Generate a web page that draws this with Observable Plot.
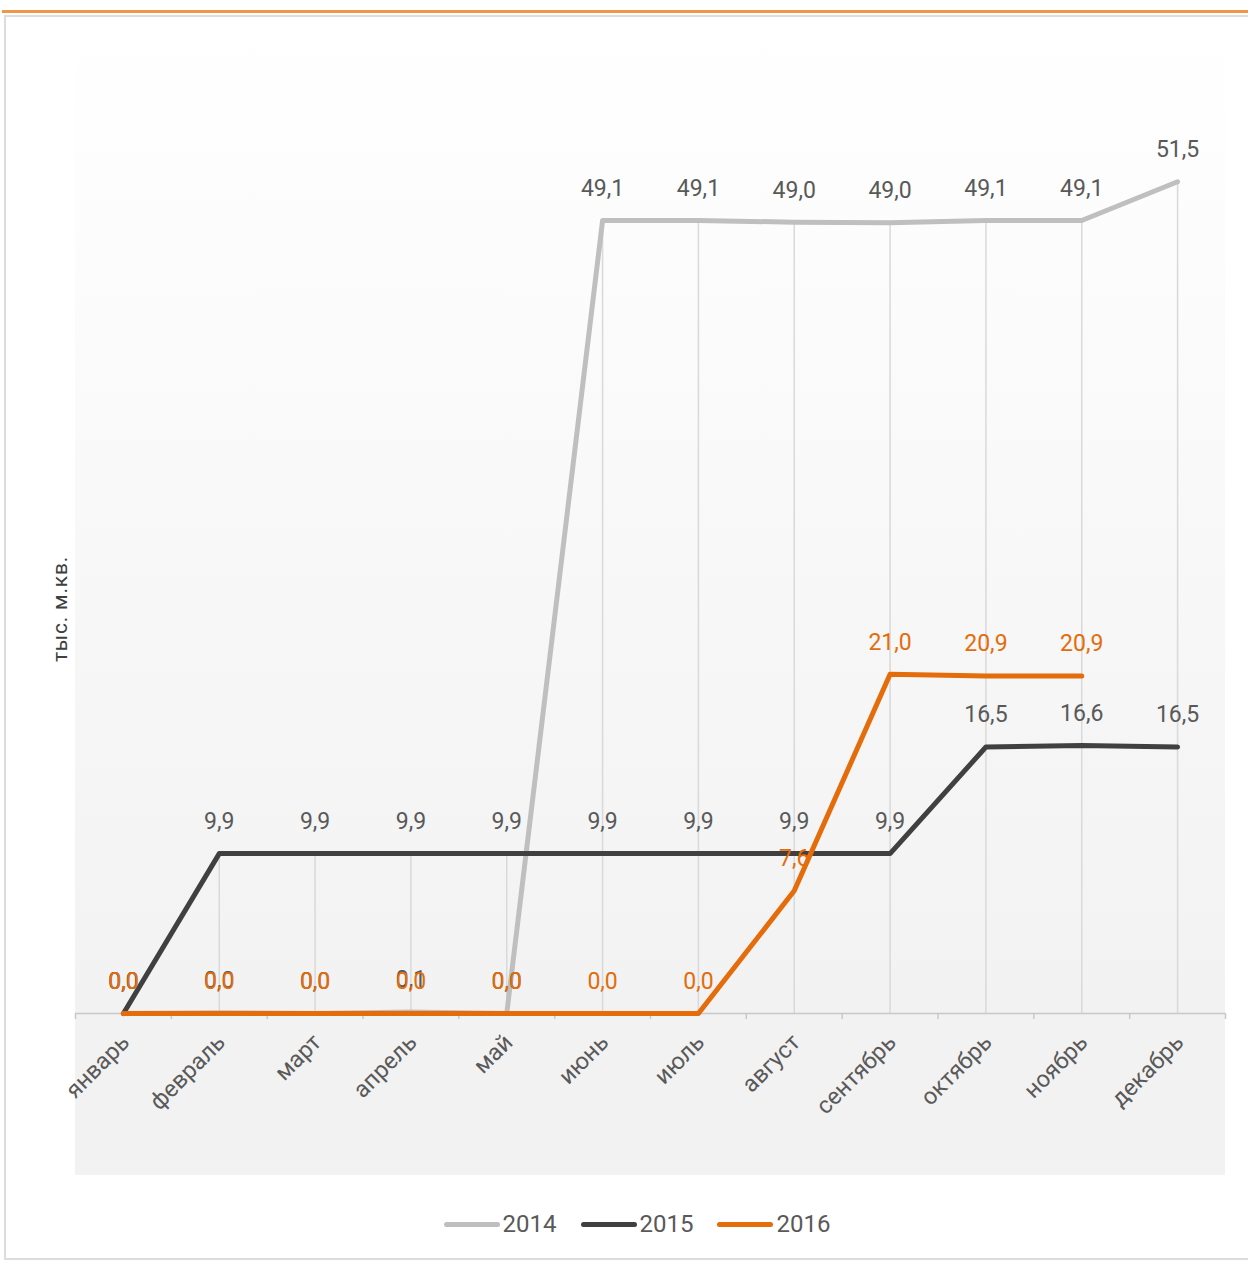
<!DOCTYPE html>
<html>
<head>
<meta charset="utf-8">
<script src="https://cdn.jsdelivr.net/npm/d3@7"></script>
<script src="https://cdn.jsdelivr.net/npm/@observablehq/plot@0.6"></script>
<style>
  html, body { margin: 0; padding: 0; background: #fff; }
  body { width: 1248px; height: 1264px; position: relative; overflow: hidden; font-family: Roboto, "Noto Sans", sans-serif; }
  #topline { position: absolute; left: 2px; top: 10px; width: 1246px; height: 3px; background: #f29545; }
  #frame { position: absolute; left: 4px; top: 15px; width: 1260px; height: 1245px; border: 2px solid #dcdcdc; box-sizing: border-box; }
  #bg { position: absolute; left: 75px; top: 20px; width: 1150px; height: 1155px;
        background: linear-gradient(to bottom, #ffffff 0px, #f2f2f2 993px, #f2f2f2 1155px); }
  #chart { position: absolute; left: 0; top: 0; }
  #ylabel { position: absolute; left: 60px; top: 609px; transform: translate(-50%, -50%) rotate(-90deg);
            font-size: 21px; color: #404040; white-space: nowrap; letter-spacing: 0.8px; }
  #legend { position: absolute; left: 0; width: 1248px; top: 1210px; display: flex; justify-content: center;
            gap: 24px; font-size: 24px; color: #595959; padding-left: 26px; box-sizing: border-box; }
  .item { display: flex; align-items: center; }
  .sw { width: 56px; height: 5px; border-radius: 3px; margin-right: 3px; }
</style>
</head>
<body>
<div id="topline"></div>
<div id="frame"></div>
<div id="bg"></div>
<div id="chart"></div>
<div id="ylabel">тыс. м.кв.</div>
<div id="legend"></div>
<script>
const months = ["январь","февраль","март","апрель","май","июнь","июль","август","сентябрь","октябрь","ноябрь","декабрь"];
const seriesNames = ["2014","2015","2016"];
const seriesColors = ["#bfbfbf","#404040","#e46c0a"];
const labelColors = ["#595959","#595959","#e46c0a"];
const values2014 = [0, 0.04, 0, 0.1, 0, 49.1, 49.1, 49.0, 48.97, 49.1, 49.1, 51.5];
const values2015 = [0, 9.9, 9.9, 9.9, 9.9, 9.9, 9.9, 9.9, 9.9, 16.5, 16.6, 16.5];
const values2016 = [0, 0, 0, 0, 0, 0, 0, 7.6, 21.0, 20.9, 20.9];

const allValues = [values2014, values2015, values2016];
const fmt = v => d3.format(".1f")(v).replace(".", ",");

const drops = months.map((m, i) => ({i, max: d3.max(allValues, s => s[i] ?? 0)}));
const boundaries = d3.range(13).map(k => k - 0.5);

const marks = [
  Plot.ruleX(drops, {x: "i", y1: 0, y2: "max", stroke: "#d9d9d9", strokeWidth: 1.5}),
  Plot.ruleY([0], {stroke: "#c8c8c8", strokeWidth: 1.5}),
  Plot.axisX(boundaries, {tickSize: 6, tickFormat: () => "", stroke: "#c8c8c8", strokeWidth: 1.5, label: null}),
  Plot.text(months.map((m, i) => ({i, m})), {
    x: "i", y: 0, text: "m", rotate: -45, textAnchor: "end", lineAnchor: "middle",
    dx: 2, dy: 25, fontSize: 23.5, fill: "#595959"
  })
];
allValues.forEach((vals, s) => {
  const rows = vals.map((v, i) => ({i, v}));
  marks.push(Plot.line(rows, {x: "i", y: "v", stroke: seriesColors[s], strokeWidth: 5, strokeLinecap: "round", strokeLinejoin: "round"}));
});
allValues.forEach((vals, s) => {
  const rows = vals.map((v, i) => ({i, v}));
  marks.push(Plot.text(rows, {x: "i", y: "v", text: d => fmt(d.v), dy: -32, fontSize: 23, fill: labelColors[s]}));
});

const chart = Plot.plot({
  width: 1248, height: 1190,
  marginLeft: 75, marginRight: 23, marginTop: 44, marginBottom: 177,
  x: {type: "linear", domain: [-0.5, 11.5], axis: null},
  y: {domain: [0, 60], axis: null},
  style: {background: "transparent", fontFamily: "Roboto, 'Noto Sans', sans-serif"},
  marks
});
document.getElementById("chart").appendChild(chart);

const legend = document.getElementById("legend");
seriesNames.forEach((n, s) => {
  const it = document.createElement("div");
  it.className = "item";
  it.innerHTML = `<div class="sw" style="background:${seriesColors[s]}"></div><span>${n}</span>`;
  legend.appendChild(it);
});
</script>
</body>
</html>
